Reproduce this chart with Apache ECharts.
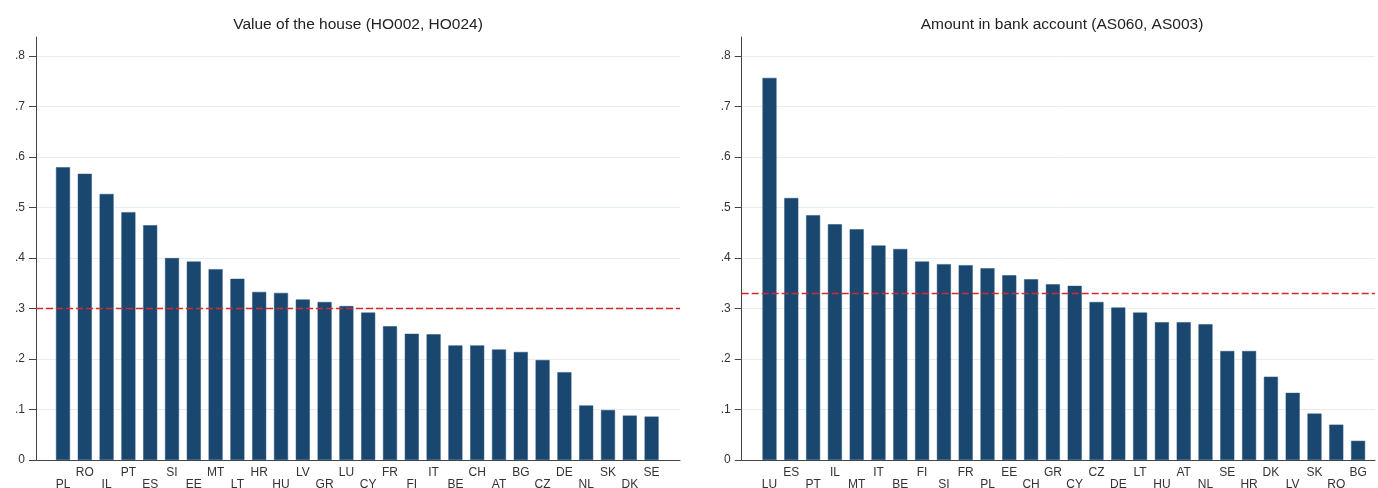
<!DOCTYPE html>
<html><head><meta charset="utf-8">
<script src="https://cdn.jsdelivr.net/npm/echarts@6/dist/echarts.min.js"></script>
<style>html,body{margin:0;padding:0;background:#fff}#c{width:1378px;height:488px}</style>
</head><body><div id="c"></div>
<script>
const houseTitle = 'Value of the house (HO002, HO024)';
const bankTitle = 'Amount in bank account (AS060, AS003)';
const houseCountries = ['PL','RO','IL','PT','ES','SI','EE','MT','LT','HR','HU','LV','GR','LU','CY','FR','FI','IT','BE','CH','AT','BG','CZ','DE','NL','SK','DK','SE'];
const houseValues = [0.580,0.567,0.527,0.491,0.465,0.400,0.393,0.378,0.359,0.333,0.331,0.318,0.313,0.305,0.292,0.265,0.250,0.249,0.227,0.227,0.219,0.214,0.198,0.174,0.108,0.099,0.088,0.086];
const houseMean = 0.300;
const bankCountries = ['LU','ES','PT','IL','MT','IT','BE','FI','SI','FR','PL','EE','CH','GR','CY','CZ','DE','LT','HU','AT','NL','SE','HR','DK','LV','SK','RO','BG'];
const bankValues = [0.757,0.519,0.485,0.467,0.457,0.425,0.418,0.393,0.388,0.386,0.380,0.366,0.358,0.348,0.345,0.313,0.302,0.292,0.273,0.273,0.269,0.216,0.216,0.165,0.133,0.092,0.070,0.038];
const bankMean = 0.326;
const yTicks = [0,0.1,0.2,0.3,0.4,0.5,0.6,0.7,0.8];
const yMax = 0.838;

const FONT = '"Liberation Sans", Arial, sans-serif';
const BAR = '#1a476f';
const fmtY = v => v === 0 ? '0' : v.toFixed(1).replace(/^0/, '');

const chart = echarts.init(document.getElementById('c'), null, {renderer: 'canvas'});

const frames = [{left: 36, width: 644}, {left: 741.7, width: 633.3}];
const barGrids = [{left: 52.1, width: 610.4}, {left: 758.6, width: 610.4}];
const panels = [
  {title: houseTitle, cats: houseCountries, vals: houseValues, mean: houseMean, tx: 358},
  {title: bankTitle, cats: bankCountries, vals: bankValues, mean: bankMean, tx: 1062}
];

const grid = [], xAxis = [], yAxis = [], series = [], title = [];
panels.forEach((p, k) => {
  const gf = grid.length;
  grid.push({left: frames[k].left, width: frames[k].width, top: 37, bottom: 28, containLabel: false, outerBoundsMode: 'none'});
  const gb = grid.length;
  grid.push({left: barGrids[k].left, width: barGrids[k].width, top: 37, bottom: 28, containLabel: false, outerBoundsMode: 'none'});
  title.push({text: p.title, left: p.tx, top: 17, padding: 0, textAlign: 'center',
    textStyle: {fontFamily: FONT, fontSize: 15.5, fontWeight: 'normal', color: '#222'}});
  const xf = xAxis.length;
  xAxis.push({type: 'value', gridIndex: gf, min: 0, max: 1, show: true,
    axisLine: {show: true, lineStyle: {color: '#444', width: 1}},
    axisTick: {show: false}, axisLabel: {show: false}, splitLine: {show: false}});
  const yf = yAxis.length;
  yAxis.push({type: 'value', gridIndex: gf, min: 0, max: yMax, interval: 0.1,
    axisLine: {show: true, lineStyle: {color: '#444', width: 1}},
    axisTick: {show: true, length: 7, customValues: yTicks, lineStyle: {color: '#444'}},
    axisLabel: {customValues: yTicks, formatter: fmtY, margin: 11, fontFamily: FONT, fontSize: 12, color: '#333'},
    splitLine: {show: true, lineStyle: {color: '#e4eef1', width: 1}}});
  const xb = xAxis.length;
  xAxis.push({type: 'category', gridIndex: gb, data: p.cats,
    axisLine: {show: false}, axisTick: {show: false},
    axisLabel: {interval: 0, margin: 7, fontFamily: FONT, fontSize: 12, lineHeight: 12, color: '#333',
      formatter: (v, i) => (i % 2 === 0 ? '\n' + v : v)},
    splitLine: {show: false}});
  const yb = yAxis.length;
  yAxis.push({type: 'value', gridIndex: gb, min: 0, max: yMax, show: false, splitLine: {show: false}});
  series.push({type: 'bar', xAxisIndex: xb, yAxisIndex: yb, data: p.vals, barWidth: 14,
    itemStyle: {color: BAR, borderColor: '#24527d', borderWidth: 0.5}, silent: true, animation: false});
  series.push({type: 'line', xAxisIndex: xf, yAxisIndex: yf, data: [], silent: true, animation: false,
    markLine: {silent: true, symbol: 'none', label: {show: false},
      lineStyle: {color: '#d7282c', type: [7, 3], width: 1.4},
      data: [{yAxis: p.mean}]}});
});

chart.setOption({animation: false, backgroundColor: '#fff', title, grid, xAxis, yAxis, series});
</script></body></html>
